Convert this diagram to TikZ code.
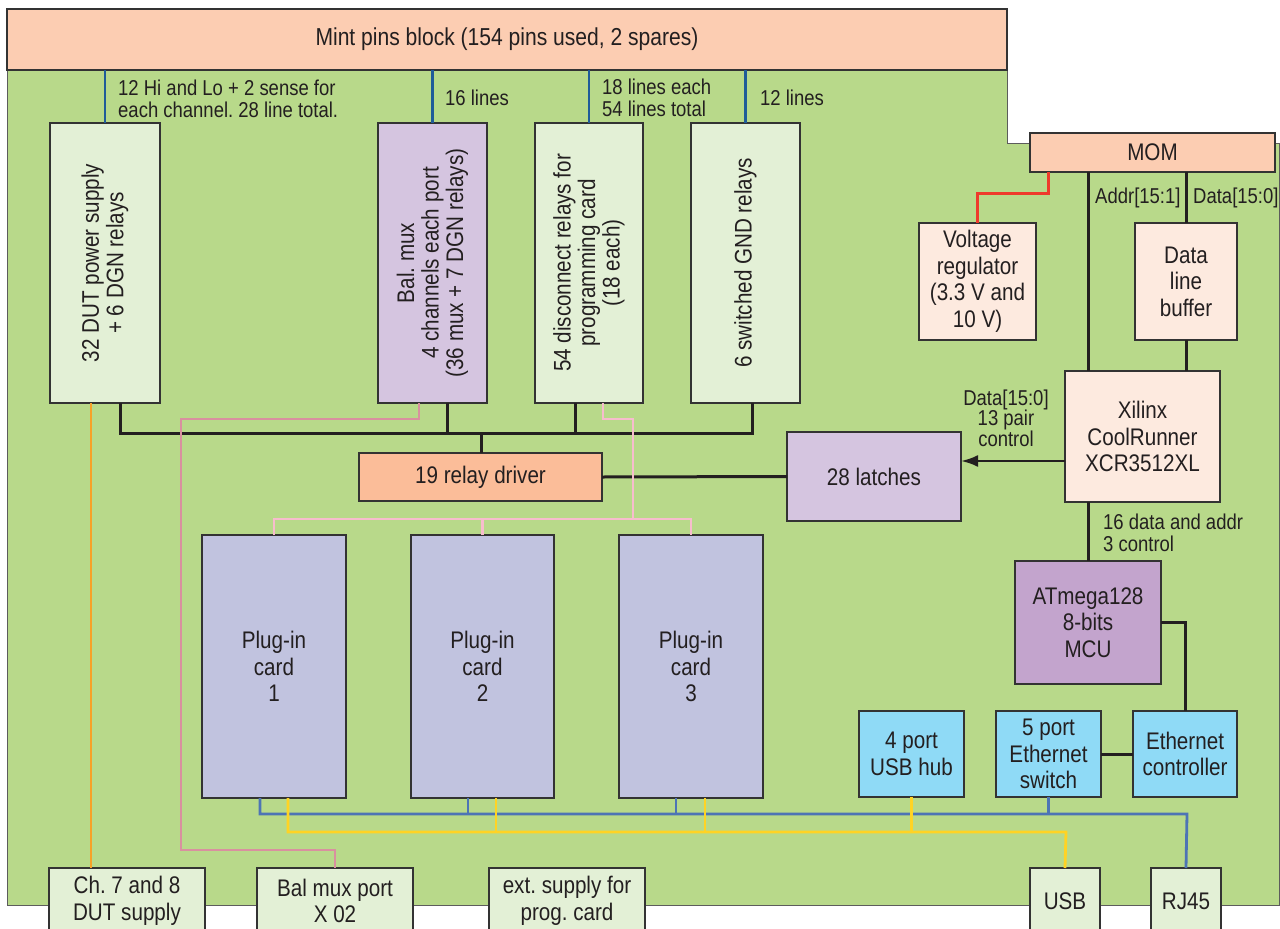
\documentclass[tikz,border=0pt]{standalone}
\usepackage{fontspec}
\setmainfont{Liberation Sans}[FakeStretch=0.86]
\usetikzlibrary{arrows.meta}
\frenchspacing
\definecolor{board}{HTML}{B8D98A}
\definecolor{mintc}{HTML}{FCCDB2}
\definecolor{lgreen}{HTML}{E3F0D6}
\definecolor{lav}{HTML}{D5C5E0}
\definecolor{driver}{HTML}{FBBD99}
\definecolor{cream}{HTML}{FDEADF}
\definecolor{atmc}{HTML}{C3A4CD}
\definecolor{plugc}{HTML}{C1C3DF}
\definecolor{cyanc}{HTML}{8FDAF6}
\definecolor{topblue}{HTML}{1F5C99}
\definecolor{botblue}{HTML}{4D74B5}
\definecolor{yel}{HTML}{FFD324}
\definecolor{ora}{HTML}{F7A128}
\definecolor{pinkd}{HTML}{D9909F}
\definecolor{pinkl}{HTML}{F7BDCD}
\definecolor{redc}{HTML}{EE3A2B}
\definecolor{outl}{HTML}{333333}
\definecolor{txt}{HTML}{231F20}
\newcommand\fsmain{\fontsize{24}{26.5}\selectfont}
\newcommand\fsrot{\fontsize{24}{24.5}\selectfont}
\newcommand\fslbl{\fontsize{21.5}{22}\selectfont}
\newcommand\fslblt{\fontsize{21.5}{20.5}\selectfont}
\newcommand\fsbig{\fontsize{24.5}{26}\selectfont}
\newcommand\blk[7]{\node[blk, fill=#6, anchor=north west, minimum width={(#4-#2)*1pt}, minimum height={(#5-#3)*1pt}] (#1) at (#2,#3) {#7};}
\begin{document}
\begin{tikzpicture}[x=1pt,y=-1pt,
  blk/.style={draw=outl, line width=1.5pt, inner sep=0pt, outer sep=0pt, align=center, font=\fsmain, text=txt},
  rtext/.style={rotate=90, align=center, font=\fsrot, text=txt, inner sep=0pt},
  lbl/.style={font=\fslbl, text=txt, inner sep=0pt},
  bus/.style={draw=txt, line width=3pt},
  topline/.style={draw=topblue, line width=2.4pt},
  redl/.style={draw=redc, line width=3pt},
  oral/.style={draw=ora, line width=2.8pt},
  pdl/.style={draw=pinkd, line width=2.8pt},
  pll/.style={draw=pinkl, line width=2.8pt},
  bbl/.style={draw=botblue, line width=2.8pt},
  yll/.style={draw=yel, line width=2.8pt}]
\useasboundingbox (0,0) rectangle (1280,929);
\clip (0,0) rectangle (1280,929);
% board
\draw[fill=board, draw=outl!80, line width=1pt] (7,70) -- (1007,70) -- (1007,143) -- (1279,143) -- (1279,905) -- (7,905) -- cycle;
% top blocks
\node[blk, fill=mintc, anchor=north west, minimum width=1000pt, minimum height=61pt, font=\fsbig] (mint) at (7,9) {Mint pins block (154 pins used, 2 spares)};
\blk{mom}{1030}{133}{1275}{172}{mintc}{MOM}
% relay boxes
\blk{dut}{50}{123}{160}{403}{lgreen}{}
\blk{bal}{378}{123}{487}{403}{lav}{}
\blk{disc}{535}{123}{643}{403}{lgreen}{}
\blk{gnd}{691}{123}{800}{403}{lgreen}{}
\node[rtext] (dutT) at (dut.center) {32 DUT power supply\\+ 6 DGN relays};
\node[rtext] (balT) at (bal.center) {Bal. mux\\4 channels each port\\(36 mux + 7 DGN relays)};
\node[rtext] (discT) at (disc.center) {54 disconnect relays for\\programming card\\(18 each)};
\node[rtext] (gndT) at (gnd.center) {6 switched GND relays};
% middle
\blk{rd}{359}{453}{602}{501}{driver}{19 relay driver}
\blk{lat}{787}{432}{961}{521}{lav}{28 latches}
\blk{xil}{1065}{371}{1220}{502}{cream}{Xilinx\\CoolRunner\\XCR3512XL}
\blk{vreg}{919}{223}{1036}{340}{cream}{Voltage\\regulator\\(3.3 V and\\10 V)}
\blk{buf}{1135}{223}{1237}{340}{cream}{Data\\line\\buffer}
\blk{atm}{1015}{561}{1161}{684}{atmc}{ATmega128\\8-bits\\MCU}
% plug-in cards
\blk{pc1}{202}{535}{346}{798}{plugc}{Plug-in\\card\\1}
\blk{pc2}{411}{535}{554}{798}{plugc}{Plug-in\\card\\2}
\blk{pc3}{619}{535}{763}{798}{plugc}{Plug-in\\card\\3}
% network
\blk{hub}{859}{711}{964}{797}{cyanc}{4 port\\USB hub}
\blk{esw}{996}{711}{1101}{797}{cyanc}{5 port\\Ethernet\\switch}
\blk{ethc}{1133}{711}{1237}{797}{cyanc}{Ethernet\\controller}
% bottom connectors
\blk{ch78}{49}{868}{205}{934}{lgreen}{Ch. 7 and 8\\DUT supply}
\blk{balp}{257}{868}{413}{934}{lgreen}{Bal mux port\\X 02}
\blk{ext}{489}{868}{645}{934}{lgreen}{ext. supply for\\prog. card}
\blk{usb}{1030}{868}{1100}{934}{lgreen}{USB}
\blk{rj}{1151}{868}{1221}{934}{lgreen}{RJ45}
% labels
\node[lbl, anchor=west, align=left] (l1) at (118,99) {12 Hi and Lo + 2 sense for\\each channel. 28 line total.};
\node[lbl, anchor=west] (l2) at (445,98) {16 lines};
\node[lbl, anchor=west, align=left] (l3) at (602,98) {18 lines each\\54 lines total};
\node[lbl, anchor=west] (l4) at (760,98) {12 lines};
\node[lbl, anchor=west] (l5) at (1095,198) {Addr[15:1]};
\node[lbl, anchor=west] (l6) at (1193,198) {Data[15:0]};
\node[lbl, font=\fslblt, align=center] (l7) at (1006,418) {Data[15:0]\\13 pair\\control};
\node[lbl, anchor=west, align=left] (l8) at (1103,533) {16 data and addr\\3 control};
% coordinates
\coordinate (b1) at (120,433);
\coordinate (b2) at (447,433);
\coordinate (b3) at (575,433);
\coordinate (b4) at (752,433);
\coordinate (b0) at (481,433);
\coordinate (ay) at (1000,461);
\coordinate (ax) at (1088,300);
\coordinate (rx) at (1048,193);
\coordinate (ox) at (91,600);
\coordinate (p1) at (419,419);
\coordinate (p2) at (181,850);
\coordinate (q1) at (603,419);
\coordinate (q2) at (633,519);
\coordinate (by) at (260,814);
\coordinate (byr) at (1187,814);
\coordinate (yy) at (288,832);
\coordinate (yyr) at (1066,832);
% top blue lines
\foreach \n in {dut,bal,disc,gnd} \draw[topline] (\n.north) -- (\n.north |- mint.south);
% relay bus
\draw[bus] (dut.south -| b1) -- (b1) -- (b4) -- (gnd.south -| b4);
\draw[bus] (bal.south -| b2) -- (b2);
\draw[bus] (disc.south -| b3) -- (b3);
\draw[bus] (b0) -- (rd.north -| b0);
\draw[bus] (rd.east) -- (lat.west);
\draw[draw=txt, line width=2.6pt, -{Latex[length=17pt,width=12pt]}] (xil.west |- ay) -- (lat.east |- ay);
% MOM / Xilinx side
\draw[bus] (mom.south -| ax) -- (xil.north -| ax);
\draw[bus] (buf.north) -- (buf.north |- mom.south);
\draw[bus] (buf.south) -- (buf.south |- xil.north);
\draw[bus] (xil.south -| ax) -- (atm.north);
\draw[bus] (atm.east) -| (ethc.north);
\draw[bus] (esw.east) -- (ethc.west);
\draw[redl] (mom.south -| rx) -- (rx) -| (vreg.north);
% coloured lines
\draw[oral] (dut.south -| ox) -- (ch78.north -| ox);
\draw[pdl] (bal.south -| p1) -- (p1) -| (p2) -| (balp.north);
\draw[pll] (disc.south -| q1) -- (q1) -| (q2);
\draw[pll] (pc1.north) -- (pc1.north |- q2) -- (pc3.north |- q2) -- (pc3.north);
\draw[pll] (pc2.north) -- (pc2.north |- q2);
\draw[bbl] (pc1.south -| by) -- (by) -- (byr) -- (rj.north);
\draw[bbl] (pc2.south -| 468,0) -- (468,814);
\draw[bbl] (pc3.south -| 676,0) -- (676,814);
\draw[bbl] (esw.south) -- (esw.south |- by);
\draw[yll] (pc1.south -| yy) -- (yy) -- (yyr) -- (usb.north);
\draw[yll] (pc2.south -| 496,0) -- (496,832);
\draw[yll] (pc3.south -| 705,0) -- (705,832);
\draw[yll] (hub.south) -- (hub.south |- yy);
\end{tikzpicture}
\end{document}
